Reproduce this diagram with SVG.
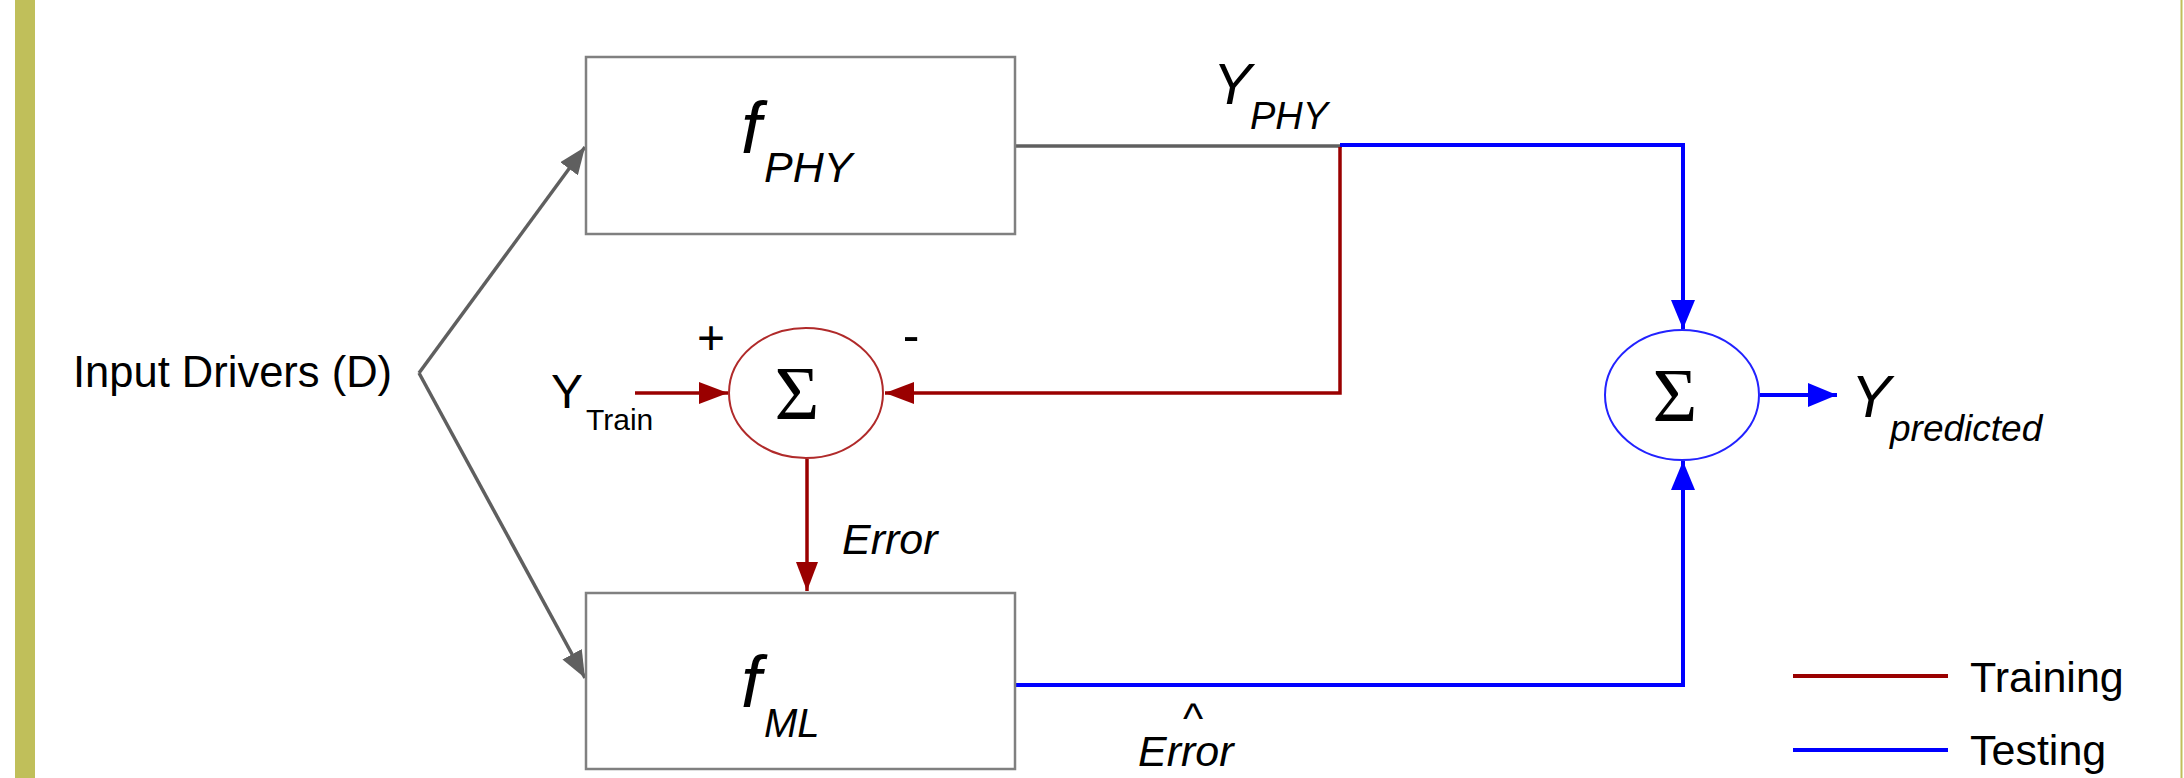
<svg xmlns="http://www.w3.org/2000/svg" width="2184" height="778" viewBox="0 0 2184 778">
<style>
  text { font-family: "Liberation Sans", Arial, sans-serif; fill: #000; }
  .it { font-style: italic; }
  .sig { font-family: "Liberation Serif", "DejaVu Serif", serif; font-size: 77px; }
  .box { fill: #fff; stroke: #808080; stroke-width: 2.5; }
  .gray { fill: none; stroke: #5f5f5f; stroke-width: 3.5; }
  .red { fill: none; stroke: #9a0000; stroke-width: 3.5; }
  .blue { fill: none; stroke: #0000ff; stroke-width: 4; }
</style>
<defs>
  <marker id="ag" markerUnits="userSpaceOnUse" markerWidth="28" markerHeight="22" refX="27" refY="11" orient="auto">
    <path d="M0,0 L27,11 L0,22 z" fill="#5f5f5f"/>
  </marker>
  <marker id="ar" markerUnits="userSpaceOnUse" markerWidth="30" markerHeight="22" refX="29" refY="11" orient="auto">
    <path d="M0,0 L29,11 L0,22 z" fill="#9a0000"/>
  </marker>
  <marker id="ab" markerUnits="userSpaceOnUse" markerWidth="30" markerHeight="24" refX="29" refY="12" orient="auto">
    <path d="M0,0 L29,12 L0,24 z" fill="#0000ff"/>
  </marker>
</defs>
<rect x="0" y="0" width="2184" height="778" fill="#fff"/>
<rect x="15" y="0" width="20" height="778" fill="#c0bf5a"/>
<line x1="2181.5" y1="0" x2="2181.5" y2="778" stroke="#c0bf5a" stroke-width="2"/>

<g id="connectors">
  <line class="gray" x1="419" y1="373" x2="585" y2="147" marker-end="url(#ag)"/>
  <line class="gray" x1="419" y1="373" x2="585" y2="678" marker-end="url(#ag)"/>
  <line class="gray" x1="1015" y1="146" x2="1342" y2="146"/>
  <polyline class="blue" points="1340,145 1683,145 1683,329" marker-end="url(#ab)"/>
  <polyline class="red" points="1340,147 1340,393 885,393" marker-end="url(#ar)"/>
  <line class="red" x1="635" y1="393" x2="728" y2="393" marker-end="url(#ar)"/>
  <line class="red" x1="807" y1="459" x2="807" y2="591" marker-end="url(#ar)"/>
  <polyline class="blue" points="1015,685 1683,685 1683,461" marker-end="url(#ab)"/>
  <line class="blue" x1="1760" y1="395" x2="1837" y2="395" marker-end="url(#ab)"/>
</g>

<g id="input">
  <text x="73" y="387" font-size="43.5">Input Drivers (D)</text>
</g>

<g id="fphy">
  <rect class="box" x="586" y="57" width="429" height="177"/>
  <text class="it" x="741" y="153" font-size="73">f</text>
  <text class="it" x="764" y="182" font-size="43">PHY</text>
</g>

<g id="fml">
  <rect class="box" x="586" y="593" width="429" height="176"/>
  <text class="it" x="741" y="707" font-size="73">f</text>
  <text class="it" x="764" y="737" font-size="40">ML</text>
</g>

<g id="sum-train">
  <ellipse cx="806" cy="393" rx="77" ry="65" fill="#fff" stroke="#b02a2a" stroke-width="2"/>
  <text class="sig" x="797" y="419" text-anchor="middle">Σ</text>
  <text x="711" y="354" font-size="48" text-anchor="middle">+</text>
  <text x="911" y="352" font-size="50" text-anchor="middle">-</text>
</g>

<g id="ytrain">
  <text x="551" y="408" font-size="48">Y</text>
  <text x="586" y="430" font-size="30">Train</text>
</g>

<g id="sum-test">
  <ellipse cx="1682" cy="395" rx="77" ry="65" fill="#fff" stroke="#2222ff" stroke-width="2"/>
  <text class="sig" x="1675" y="421" text-anchor="middle">Σ</text>
</g>

<g id="labels">
  <text class="it" x="1213" y="104" font-size="58">Y</text>
  <text class="it" x="1250" y="129" font-size="38">PHY</text>
  <text class="it" x="842" y="554" font-size="43">Error</text>
  <text x="1193" y="733" font-size="43" text-anchor="middle">^</text>
  <text class="it" x="1138" y="766" font-size="43">Error</text>
  <text class="it" x="1851" y="417" font-size="60">Y</text>
  <text class="it" x="1890" y="441" font-size="37">predicted</text>
</g>

<g id="legend">
  <line x1="1793" y1="676" x2="1948" y2="676" stroke="#9a0000" stroke-width="4"/>
  <text x="1970" y="692" font-size="43">Training</text>
  <line x1="1793" y1="750" x2="1948" y2="750" stroke="#0000ff" stroke-width="4"/>
  <text x="1970" y="765" font-size="43">Testing</text>
</g>
</svg>
